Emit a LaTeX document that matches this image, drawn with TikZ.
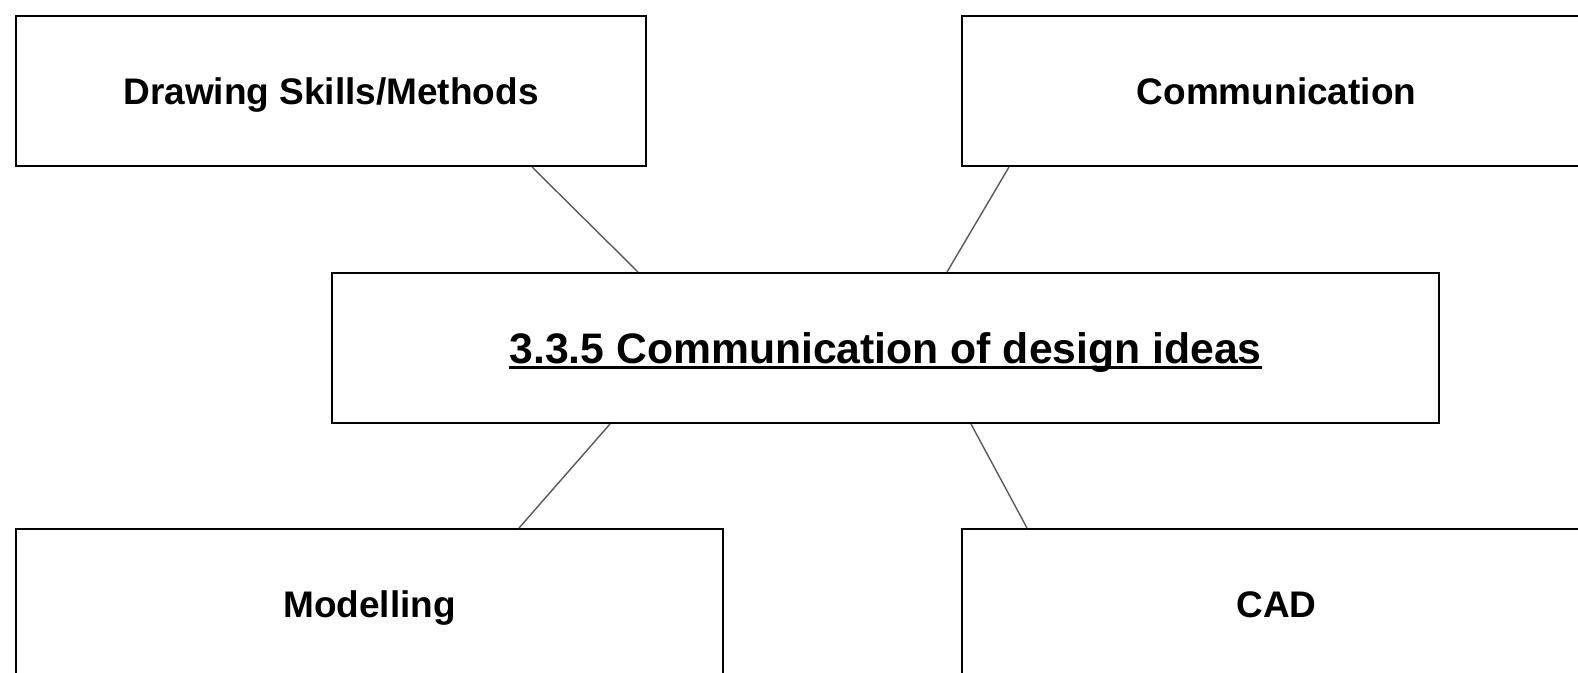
\documentclass[tikz,border=0pt]{standalone}
\usepackage{fontspec}
\setmainfont{Liberation Sans}
\newcommand\headline[1]{\leavevmode\vtop{\hbox{\smash{#1}}\kern3pt\hrule height 3pt}}
\begin{document}
\begin{tikzpicture}[x=1pt,y=-1pt,
  topic/.style={draw=black,line width=2pt,fill=white,inner sep=0pt,align=center,
    text height=26.5pt,text depth=0pt,font=\fontsize{37}{44}\selectfont\bfseries},
  link/.style={draw=black!65,line width=1.4pt}]
\useasboundingbox (0,0) rectangle (1578,672);
\clip (0,0) rectangle (1578,672);

\node[topic,minimum width=630pt,minimum height=150pt] (drawing) at (331,91) {Drawing Skills/Methods};
\node[topic,minimum width=629pt,minimum height=150pt] (comm) at (1276.5,91) {Communication};
\node[topic,minimum width=1107pt,minimum height=150pt,text height=30.6pt,font=\fontsize{42.7}{50}\selectfont\bfseries] (main) at (885.5,348) {\headline{3.3.5 Communication of design ideas}};
\node[topic,minimum width=707pt,minimum height=150pt] (model) at (369.5,604) {Modelling};
\node[topic,minimum width=629pt,minimum height=150pt] (cad) at (1276.5,604) {CAD};

\draw[link] ([xshift=201pt]drawing.south) -- ([xshift=-247.5pt]main.north);
\draw[link] ([xshift=-267.5pt]comm.south) -- ([xshift=61.5pt]main.north);
\draw[link] ([xshift=-275.5pt]main.south) -- ([xshift=149.5pt]model.north);
\draw[link] ([xshift=85.5pt]main.south) -- ([xshift=-249.5pt]cad.north);
\end{tikzpicture}
\end{document}
